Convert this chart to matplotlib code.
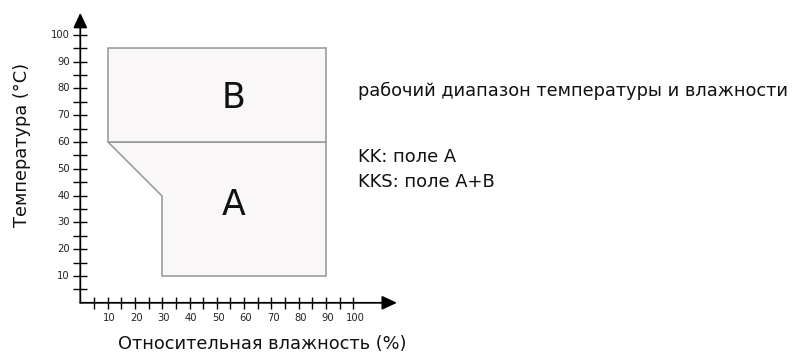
import matplotlib
matplotlib.use("Agg")
import matplotlib.pyplot as plt
import numpy as np

# Data: operating ranges (relative humidity %, temperature °C)
zone_b_humidity = [10, 90, 90, 10]
zone_b_temp = [95, 95, 60, 60]
zone_a_humidity = [10, 90, 90, 30, 30]
zone_a_temp = [60, 60, 10, 10, 40]
zone_labels = ["B", "A"]
zone_label_x = [56, 56]
zone_label_y = [76.5, 36.5]
tick_values = list(range(5, 101, 5))
tick_labels = [10, 20, 30, 40, 50, 60, 70, 80, 90, 100]
xlabel = "Относительная влажность (%)"
ylabel = "Температура (°C)"
note_title = "рабочий диапазон температуры и влажности"
note_lines = ["KK: поле A", "KKS: поле A+B"]

W, H = 792, 355
fig = plt.figure(figsize=(W / 100, H / 100), dpi=100)
ax = fig.add_axes([0, 0, 1, 1])
# pixel mapping: x_px = 80.3 + 2.73*v ; y_px(top) = 302.8 - 2.68*v
sx, ox = 2.73, 80.3
sy, oy = 2.68, 302.8
ax.set_xlim(-ox / sx, (W - ox) / sx)
ax.set_ylim((oy - H) / sy, oy / sy)
ax.axis("off")

fill_c = "#f9f7f8"
edge_c = "#959595"
ax.fill(zone_a_humidity, zone_a_temp, facecolor=fill_c, edgecolor=edge_c, lw=1.1, zorder=2)
ax.fill(zone_b_humidity, zone_b_temp, facecolor=fill_c, edgecolor=edge_c, lw=1.1, zorder=2)

for lab, x, y in zip(zone_labels, zone_label_x, zone_label_y):
    ax.text(x, y, lab, fontsize=25, ha="center", va="center", color="#111111", zorder=3)

# axes with arrows
ax.annotate("", xy=(116, 0), xytext=(0, 0),
            arrowprops=dict(arrowstyle="-|>,head_length=0.9,head_width=0.42", color="black",
                            lw=1.3, shrinkA=0, shrinkB=0), zorder=4)
ax.annotate("", xy=(0, 108.2), xytext=(0, 0),
            arrowprops=dict(arrowstyle="-|>,head_length=0.9,head_width=0.42", color="black",
                            lw=1.3, shrinkA=0, shrinkB=0), zorder=4)

tlx = 6.0 / sy  # half tick length in data units (vertical ticks on x axis)
tly = 7.0 / sx
ax.vlines(tick_values, -tlx, tlx, color="black", lw=1.0, zorder=4)
ax.hlines(tick_values, -tly, tly, color="black", lw=1.0, zorder=4)

for v in tick_labels:
    ax.text(v + 0.6, -5.8, str(v), fontsize=7.2, ha="center", va="center", color="#222222")
    ax.text(-3.9, v, str(v), fontsize=7.2, ha="right", va="center", color="#222222")

ax.text((22 - ox) / sx, (oy - 145) / sy, ylabel, rotation=90, fontsize=12.8,
        ha="center", va="center", color="#111111")
ax.text((262 - ox) / sx, (oy - 344) / sy, xlabel, fontsize=12.8,
        ha="center", va="center", color="#111111")

ax.text((358 - ox) / sx, (oy - 91) / sy, note_title, fontsize=12.8, ha="left", va="center", color="#111111")
ax.text((358 - ox) / sx, (oy - 157) / sy, note_lines[0], fontsize=12.9, ha="left", va="center", color="#111111")
ax.text((358 - ox) / sx, (oy - 182) / sy, note_lines[1], fontsize=12.9, ha="left", va="center", color="#111111")

fig.savefig("out.png", dpi=100, facecolor="white")
